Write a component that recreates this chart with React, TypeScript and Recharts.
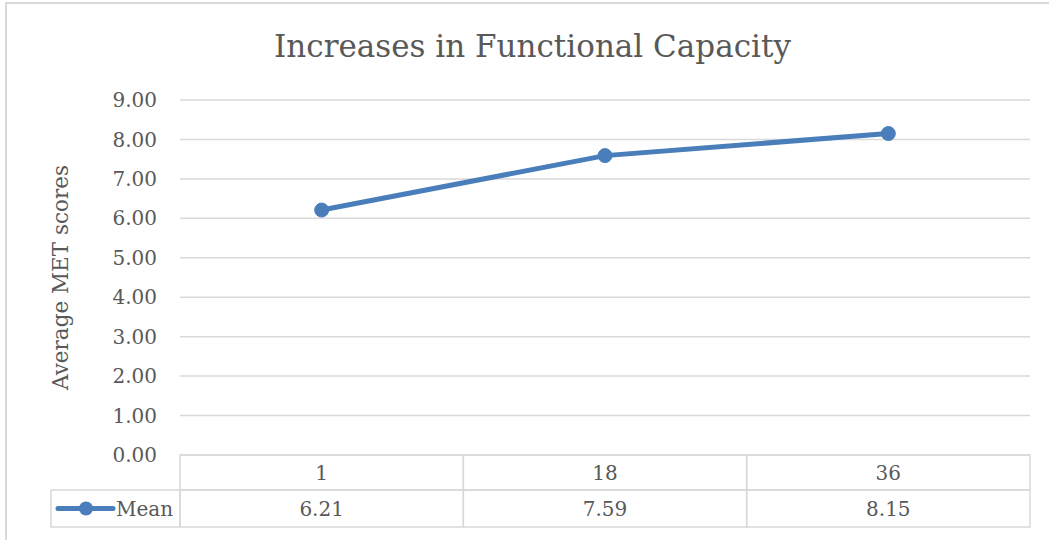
import React from 'react';
import { LineChart, Line, XAxis, YAxis, CartesianGrid, Label } from 'recharts';

const categories = ['1', '18', '36'];
const meanValues = [6.21, 7.59, 8.15];
const yTicks = [0, 1, 2, 3, 4, 5, 6, 7, 8, 9];
const seriesName = 'Mean';

const data = categories.map((c, i) => ({ month: c, Mean: meanValues[i] }));

const FONT = '"DejaVu Serif", "Liberation Serif", serif';
const TEXT = '#595959';
const GRID = '#d9d9d9';
const BLUE = '#4a7ebb';

const W = 1049;
const H = 540;
const PLOT_LEFT = 180;
const PLOT_RIGHT = 1030;
const PLOT_TOP = 100;
const PLOT_BOTTOM = 455;
const COL_W = (PLOT_RIGHT - PLOT_LEFT) / categories.length;
const ROW1 = 35;
const ROW2 = 37;
const LEGEND_W = 129;

// data table drawn under each category tick, legend key sits left of the first column
const TableTick = (props: any) => {
  const { x, payload, index } = props;
  const left = x - COL_W / 2;
  const val = meanValues[index];
  const midY = PLOT_BOTTOM + ROW1 + ROW2 / 2;
  return (
    <g>
      <rect x={left} y={PLOT_BOTTOM} width={COL_W} height={ROW1} fill="none" stroke={GRID} strokeWidth={1.5} />
      <rect x={left} y={PLOT_BOTTOM + ROW1} width={COL_W} height={ROW2} fill="none" stroke={GRID} strokeWidth={1.5} />
      <text x={x} y={PLOT_BOTTOM + ROW1 / 2} textAnchor="middle" dominantBaseline="central" fontSize={20} fill={TEXT} fontFamily={FONT}>
        {payload.value}
      </text>
      <text x={x} y={midY} textAnchor="middle" dominantBaseline="central" fontSize={20} fill={TEXT} fontFamily={FONT}>
        {val.toFixed(2)}
      </text>
      {index === 0 && (
        <g>
          <rect x={left - LEGEND_W} y={PLOT_BOTTOM + ROW1} width={LEGEND_W} height={ROW2} fill="none" stroke={GRID} strokeWidth={1.5} />
          <line x1={left - LEGEND_W + 7} x2={left - LEGEND_W + 62} y1={midY} y2={midY} stroke={BLUE} strokeWidth={5} strokeLinecap="round" />
          <circle cx={left - LEGEND_W + 35} cy={midY} r={7} fill={BLUE} />
          <text x={left - LEGEND_W + 65} y={midY} dominantBaseline="central" fontSize={20} fill={TEXT} fontFamily={FONT}>
            {seriesName}
          </text>
        </g>
      )}
    </g>
  );
};

const App: React.FC = () => {
  return (
    <div style={{ position: 'absolute', left: 0, top: 0, width: W, height: H, overflow: 'hidden', background: '#fff' }}>
      <div style={{ position: 'absolute', left: 5, top: 2, width: 1200, height: 700, border: `2px solid ${GRID}`, boxSizing: 'border-box' }} />
      <div style={{ position: 'absolute', left: 8, top: 26, width: W, textAlign: 'center', fontFamily: FONT, fontSize: 31, color: TEXT, lineHeight: '40px' }}>
        Increases in Functional Capacity
      </div>
      <div style={{ position: 'absolute', left: 0, top: 0 }}>
        <LineChart
          width={W}
          height={H}
          data={data}
          margin={{ top: PLOT_TOP, right: W - PLOT_RIGHT, bottom: 0, left: 0 }}
        >
          <CartesianGrid horizontal vertical={false} stroke={GRID} strokeWidth={1.5} />
          <XAxis
            dataKey="month"
            height={H - PLOT_BOTTOM}
            padding={{ left: COL_W / 2, right: COL_W / 2 }}
            axisLine={false}
            tickLine={false}
            interval={0}
            tick={<TableTick />}
          />
          <YAxis
            width={PLOT_LEFT}
            domain={[0, 9]}
            ticks={yTicks}
            interval={0}
            axisLine={false}
            tickLine={false}
            tickSize={0}
            tickMargin={23}
            tickFormatter={(v: number) => v.toFixed(2)}
            tick={{ fontSize: 20, fill: TEXT, fontFamily: FONT }}
          >
            <Label
              value="Average MET scores"
              content={(p: any) => {
                const vb = p.viewBox;
                const cy = vb.y + vb.height / 2;
                return (
                  <text x={60} y={cy} transform={`rotate(-90 60 ${cy})`} textAnchor="middle" dominantBaseline="central" fontSize={21.5} fill={TEXT} fontFamily={FONT}>
                    Average MET scores
                  </text>
                );
              }}
            />
          </YAxis>
          <Line
            type="linear"
            dataKey="Mean"
            stroke={BLUE}
            strokeWidth={5}
            dot={{ r: 7, fill: BLUE, stroke: BLUE, strokeWidth: 1 }}
            activeDot={false}
            isAnimationActive={false}
          />
        </LineChart>
      </div>
    </div>
  );
};

export default App;
